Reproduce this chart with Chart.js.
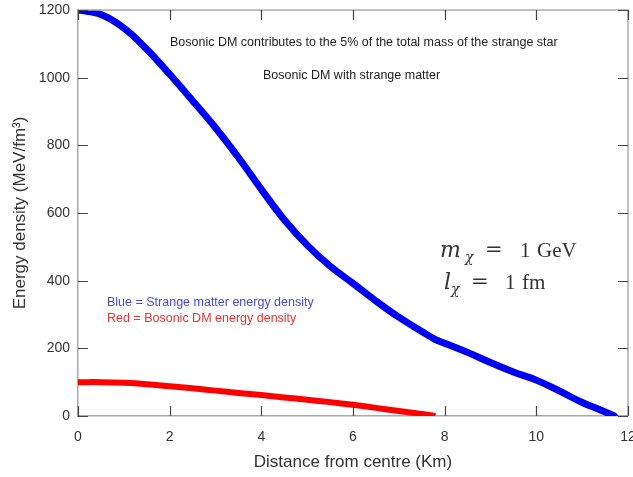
<!DOCTYPE html>
<html>
<head>
<meta charset="utf-8">
<script src="https://cdn.jsdelivr.net/npm/chart.js@4/dist/chart.umd.min.js"></script>
<style>
  html, body { margin: 0; padding: 0; background: #fff; }
  #wrap { width: 633px; height: 477px; position: relative; }
</style>
</head>
<body>
<div id="wrap"><canvas id="myChart" width="633" height="477"></canvas></div>
<script>
// distance from centre (Km) and energy density (MeV/fm^3)
const blueX = [0, 0.5, 1, 1.5, 2, 2.5, 3, 3.5, 4, 4.5, 5, 5.5, 6, 6.5, 7, 7.5, 7.8, 8, 8.5, 9, 9.5, 10, 10.5, 11, 11.4, 11.7];
const blueY = [1200, 1187, 1147, 1084, 1010, 932, 852, 764, 670, 580, 505, 443, 392, 340, 292, 250, 226, 215, 188, 158, 130, 106, 74, 40, 18, 0];
const redX = [0, 0.5, 1, 1.5, 2, 2.5, 3, 3.5, 4, 4.5, 5, 5.5, 6, 6.5, 7, 7.5, 7.8];
const redY = [100, 100, 98, 94, 88, 82, 75, 68, 62, 55, 48, 41, 33, 24, 15, 6, 0];
const xTicks = [0, 2, 4, 6, 8, 10, 12];
const yTicks = [0, 200, 400, 600, 800, 1000, 1200];

function puntos(xs, ys) {
    return xs.map((x, i) => ({ x: x, y: ys[i] }));
}

// ticks hacia adentro y marco superior/derecho
const marcoPlugin = {
    id: 'marco',
    afterDatasetsDraw(chart) {
        const ctx = chart.ctx;
        const a = chart.chartArea;
        const sx = chart.scales.x, sy = chart.scales.y;
        ctx.save();
        ctx.strokeStyle = '#aaa';
        ctx.lineWidth = 1.5;
        ctx.beginPath();
        ctx.moveTo(a.left, a.top); ctx.lineTo(a.right, a.top); ctx.lineTo(a.right, a.bottom);
        ctx.stroke();
        ctx.strokeStyle = '#444';
        ctx.lineWidth = 1.2;
        xTicks.forEach(v => {
            const px = Math.round(sx.getPixelForValue(v)) + 0.5;
            ctx.beginPath();
            ctx.moveTo(px, a.bottom); ctx.lineTo(px, a.bottom - 10);
            ctx.moveTo(px, a.top); ctx.lineTo(px, a.top + 10);
            ctx.stroke();
        });
        yTicks.forEach(v => {
            const py = Math.round(sy.getPixelForValue(v)) + 0.5;
            ctx.beginPath();
            ctx.moveTo(a.left, py); ctx.lineTo(a.left + 10, py);
            ctx.moveTo(a.right, py); ctx.lineTo(a.right - 10, py);
            ctx.stroke();
        });
        ctx.restore();
    },
    afterDraw(chart) {
        const ctx = chart.ctx;
        ctx.save();
        ctx.textBaseline = 'middle';
        ctx.textAlign = 'left';
        ctx.fillStyle = '#222';
        ctx.font = '12.5px "Liberation Sans", Arial, sans-serif';
        ctx.fillText('Bosonic DM contributes to the 5% of the total mass of the strange star', 170, 43);
        ctx.fillText('Bosonic DM with strange matter', 263, 76);
        ctx.fillStyle = '#4a4ad8';
        ctx.fillText('Blue = Strange matter energy density', 107, 303);
        ctx.fillStyle = '#f03030';
        ctx.fillText('Red = Bosonic DM energy density', 107, 319);
        // m_chi = 1 GeV, l_chi = 1 fm
        ctx.fillStyle = '#333';
        ctx.font = 'italic 22px "DejaVu Serif", "Liberation Serif", serif';
        ctx.fillText('m', 440, 251);
        ctx.fillText('l', 444, 283);
        ctx.font = 'italic 14px "DejaVu Serif", "Liberation Serif", serif';
        ctx.fillText('χ', 465, 258);
        ctx.fillText('χ', 451, 290);
        ctx.font = '21px "DejaVu Serif", serif';
        ctx.fillText('=', 485, 251);
        ctx.fillText('=', 471, 283);
        ctx.font = '21px "Liberation Serif", serif';
        ctx.fillText('1', 520, 251);
        ctx.fillText('GeV', 537, 251);
        ctx.fillText('1', 505, 283);
        ctx.fillText('fm', 522, 283);
        ctx.restore();
    }
};

const ctx = document.getElementById('myChart').getContext('2d');
const myChart = new Chart(ctx, {
    type: 'line',
    data: {
        datasets: [
            {
                label: 'Strange matter',
                data: puntos(blueX, blueY),
                borderColor: '#0000f0',
                borderWidth: 7,
                pointRadius: 0,
                tension: 0.4,
                borderCapStyle: 'round'
            },
            {
                label: 'Bosonic DM',
                data: puntos(redX, redY),
                borderColor: '#ff0000',
                borderWidth: 6,
                pointRadius: 0,
                tension: 0.4
            }
        ]
    },
    options: {
        responsive: false,
        animation: false,
        layout: { padding: { top: 10, right: 5, left: 0, bottom: 0 } },
        plugins: { legend: { display: false }, tooltip: { enabled: false } },
        scales: {
            x: {
                type: 'linear',
                min: 0, max: 12,
                afterBuildTicks: s => { s.ticks = xTicks.map(v => ({ value: v })); },
                afterFit: s => { s.height = 61; s.paddingRight = 0; s.paddingLeft = 0; },
                grid: { drawOnChartArea: false, drawTicks: false },
                border: { display: true, color: '#aaa', width: 1.5 },
                ticks: { padding: 13, color: '#333', font: { family: '"Liberation Sans", Arial, sans-serif', size: 14 } },
                title: {
                    display: true,
                    text: 'Distance from centre (Km)',
                    color: '#333',
                    font: { family: '"Liberation Sans", Arial, sans-serif', size: 17 },
                    padding: { top: 11 }
                }
            },
            y: {
                min: 0, max: 1200,
                afterBuildTicks: s => { s.ticks = yTicks.map(v => ({ value: v })); },
                afterFit: s => { s.width = 78; s.paddingTop = 0; s.paddingBottom = 0; },
                grid: { drawOnChartArea: false, drawTicks: false },
                border: { display: true, color: '#aaa', width: 1.5 },
                ticks: {
                    padding: 8, color: '#333',
                    font: { family: '"Liberation Sans", Arial, sans-serif', size: 14 },
                    callback: v => String(v)
                },
                title: {
                    display: true,
                    text: 'Energy density (MeV/fm³)',
                    color: '#333',
                    font: { family: '"Liberation Sans", Arial, sans-serif', size: 17 },
                    padding: { top: 10, bottom: 0 }
                }
            }
        }
    },
    plugins: [marcoPlugin]
});
</script>
</body>
</html>
